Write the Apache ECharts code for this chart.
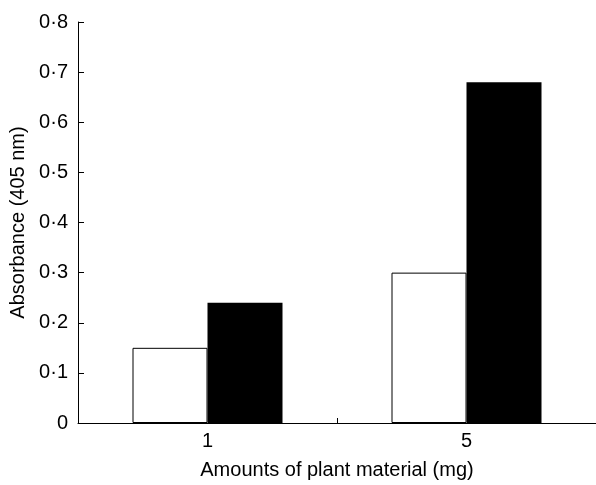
<!DOCTYPE html>
<html>
<head>
<meta charset="utf-8">
<script src="https://cdn.jsdelivr.net/npm/echarts@6/dist/echarts.min.js"></script>
<style>html,body{margin:0;padding:0;background:#fff}#c{width:596px;height:485px}</style>
</head>
<body>
<div id="c"></div>
<script>
var categories = ['1', '5'];
var whiteValues = [0.15, 0.30];
var blackValues = [0.24, 0.68];
var yTickLabels = ['0', '0·1', '0·2', '0·3', '0·4', '0·5', '0·6', '0·7', '0·8'];

var chart = echarts.init(document.getElementById('c'));
var font = 'Liberation Sans, Arial, sans-serif';
chart.setOption({
  animation: false,
  grid: {left: 76, right: -3, top: 22, bottom: 59, containLabel: false},
  xAxis: {
    type: 'category',
    data: categories,
    name: 'Amounts of plant material (mg)',
    nameLocation: 'middle',
    nameGap: 37,
    nameTextStyle: {color: '#000', fontSize: 20, fontFamily: font},
    axisLine: {lineStyle: {color: '#000', width: 1}},
    axisTick: {show: true, inside: true, length: 5, lineStyle: {color: '#000'}},
    axisLabel: {color: '#000', fontSize: 20, fontFamily: font, margin: 8}
  },
  yAxis: {
    type: 'value',
    min: 0, max: 0.8, interval: 0.1,
    name: 'Absorbance (405 nm)',
    nameLocation: 'middle',
    nameGap: 50,
    nameTextStyle: {color: '#000', fontSize: 20, fontFamily: font},
    splitLine: {show: false},
    axisLine: {show: true, lineStyle: {color: '#000', width: 1}},
    axisTick: {show: true, inside: true, length: 6, lineStyle: {color: '#000'}},
    axisLabel: {
      color: '#000', fontSize: 20, fontFamily: font, margin: 10,
      formatter: function (v) { return yTickLabels[Math.round(v * 10)]; }
    }
  },
  series: [
    {type: 'bar', data: whiteValues, barWidth: 75, barGap: '0%',
     itemStyle: {color: '#fff', borderColor: '#000', borderWidth: 1}},
    {type: 'bar', data: blackValues, barWidth: 75, barGap: '0%',
     itemStyle: {color: '#000', borderColor: '#000', borderWidth: 0}}
  ]
});
</script>
</body>
</html>
